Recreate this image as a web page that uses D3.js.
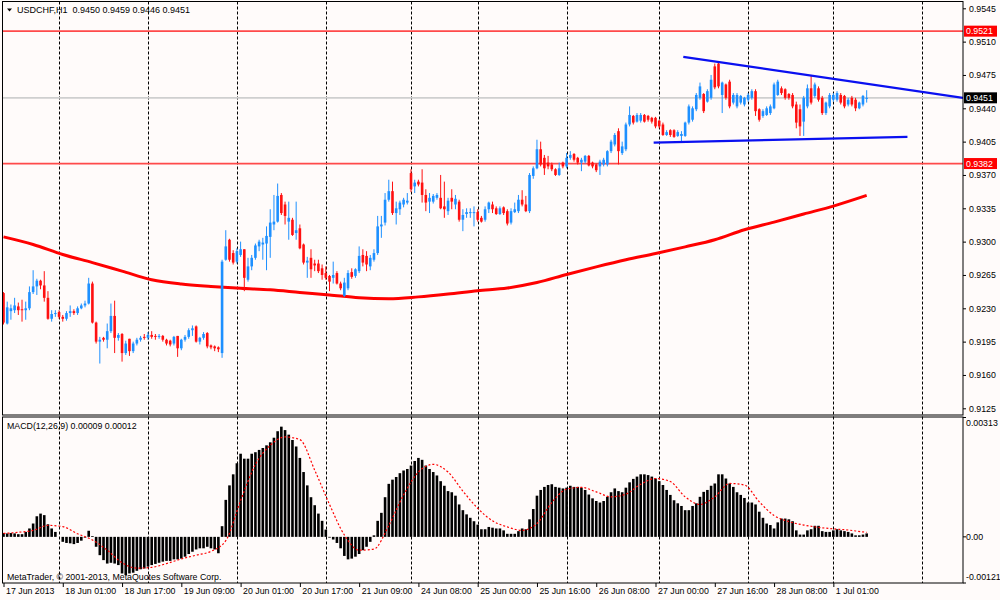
<!DOCTYPE html>
<html>
<head>
<meta charset="utf-8">
<script src="https://cdn.jsdelivr.net/npm/d3@7"></script>
<style>
  html, body { margin: 0; padding: 0; background: #fffbfa; }
  svg { display: block; font-family: "Liberation Sans", Arial, sans-serif; }
</style>
</head>
<body>
<svg id="chart" width="1000" height="600"></svg>
<script>
// USDCHF H1 candles, one entry per bar
const opens = [
0.9246,0.9214,0.9227,0.9228,0.9232,0.9229,0.9228,0.9230,0.9247,0.9253,
0.9259,0.9254,0.9241,0.9219,0.9224,0.9226,0.9221,0.9219,0.9225,0.9227,
0.9225,0.9230,0.9233,0.9235,0.9256,0.9215,0.9195,0.9199,0.9197,0.9206,
0.9222,0.9199,0.9203,0.9183,0.9198,0.9185,0.9193,0.9197,0.9200,0.9199,
0.9202,0.9201,0.9200,0.9201,0.9197,0.9196,0.9193,0.9201,0.9188,0.9197,
0.9200,0.9207,0.9211,0.9195,0.9199,0.9204,0.9191,0.9190,0.9189,0.9183,
0.9281,0.9302,0.9288,0.9279,0.9286,0.9292,0.9260,0.9274,0.9283,0.9295,
0.9297,0.9298,0.9305,0.9318,0.9321,0.9349,0.9339,0.9321,0.9323,0.9309,
0.9314,0.9297,0.9278,0.9283,0.9277,0.9277,0.9272,0.9267,0.9264,0.9262,
0.9267,0.9256,0.9243,0.9251,0.9268,0.9264,0.9269,0.9286,0.9285,0.9274,
0.9281,0.9288,0.9316,0.9320,0.9344,0.9353,0.9330,0.9334,0.9339,0.9341,
0.9372,0.9358,0.9363,0.9362,0.9349,0.9342,0.9342,0.9346,0.9346,0.9337,
0.9332,0.9346,0.9339,0.9342,0.9323,0.9329,0.9330,0.9330,0.9331,0.9325,
0.9323,0.9334,0.9339,0.9335,0.9329,0.9336,0.9332,0.9320,0.9331,0.9332,
0.9344,0.9339,0.9332,0.9369,0.9377,0.9397,0.9388,0.9383,0.9381,0.9376,
0.9370,0.9383,0.9379,0.9388,0.9392,0.9388,0.9383,0.9384,0.9390,0.9383,
0.9381,0.9379,0.9381,0.9381,0.9395,0.9402,0.9416,0.9393,0.9397,0.9423,
0.9432,0.9426,0.9427,0.9433,0.9432,0.9430,0.9430,0.9427,0.9423,0.9412,
0.9417,0.9417,0.9411,0.9411,0.9411,0.9425,0.9428,0.9439,0.9451,0.9455,
0.9447,0.9451,0.9484,0.9487,0.9454,0.9465,0.9468,0.9446,0.9442,0.9446,
0.9444,0.9449,0.9451,0.9458,0.9439,0.9432,0.9433,0.9435,0.9440,0.9454,
0.9461,0.9460,0.9455,0.9454,0.9444,0.9439,0.9426,0.9442,0.9461,0.9453,
0.9461,0.9451,0.9435,0.9442,0.9449,0.9449,0.9454,0.9453,0.9444,0.9451,
0.9449,0.9440,0.9444,0.9450];
const highs = [
0.9247,0.9237,0.9234,0.9241,0.9236,0.9239,0.9237,0.9253,0.9270,0.9261,
0.9260,0.9269,0.9248,0.9228,0.9228,0.9228,0.9223,0.9227,0.9233,0.9229,
0.9232,0.9235,0.9238,0.9262,0.9258,0.9216,0.9200,0.9200,0.9214,0.9235,
0.9238,0.9204,0.9204,0.9196,0.9198,0.9195,0.9199,0.9201,0.9203,0.9205,
0.9206,0.9203,0.9203,0.9202,0.9198,0.9197,0.9201,0.9201,0.9198,0.9202,
0.9209,0.9212,0.9212,0.9200,0.9205,0.9205,0.9192,0.9191,0.9190,0.9281,
0.9312,0.9303,0.9291,0.9293,0.9300,0.9292,0.9283,0.9286,0.9298,0.9302,
0.9304,0.9316,0.9334,0.9349,0.9361,0.9351,0.9342,0.9342,0.9325,0.9342,
0.9318,0.9298,0.9284,0.9292,0.9281,0.9281,0.9276,0.9274,0.9265,0.9279,
0.9269,0.9258,0.9262,0.9270,0.9272,0.9272,0.9295,0.9292,0.9290,0.9286,
0.9292,0.9327,0.9327,0.9351,0.9365,0.9363,0.9342,0.9343,0.9346,0.9351,
0.9376,0.9365,0.9365,0.9376,0.9355,0.9351,0.9350,0.9351,0.9370,0.9363,
0.9346,0.9355,0.9349,0.9344,0.9334,0.9335,0.9335,0.9337,0.9334,0.9327,
0.9337,0.9342,0.9342,0.9337,0.9337,0.9337,0.9334,0.9335,0.9341,0.9349,
0.9354,0.9348,0.9372,0.9379,0.9407,0.9405,0.9391,0.9390,0.9383,0.9377,
0.9383,0.9384,0.9393,0.9395,0.9393,0.9389,0.9388,0.9391,0.9391,0.9384,
0.9382,0.9386,0.9388,0.9396,0.9407,0.9414,0.9419,0.9405,0.9425,0.9442,
0.9433,0.9435,0.9435,0.9434,0.9433,0.9431,0.9431,0.9428,0.9425,0.9417,
0.9418,0.9418,0.9417,0.9416,0.9426,0.9444,0.9442,0.9456,0.9467,0.9456,
0.9460,0.9475,0.9487,0.9488,0.9468,0.9466,0.9470,0.9456,0.9456,0.9454,
0.9452,0.9456,0.9460,0.9460,0.9440,0.9439,0.9442,0.9444,0.9467,0.9470,
0.9463,0.9461,0.9456,0.9456,0.9447,0.9444,0.9453,0.9465,0.9475,0.9467,
0.9463,0.9453,0.9447,0.9456,0.9456,0.9458,0.9456,0.9454,0.9451,0.9453,
0.9451,0.9447,0.9454,0.9459];
const lows = [
0.9213,0.9213,0.9218,0.9225,0.9223,0.9216,0.9218,0.9228,0.9245,0.9244,
0.9250,0.9237,0.9218,0.9216,0.9221,0.9219,0.9216,0.9217,0.9221,0.9223,
0.9223,0.9229,0.9231,0.9234,0.9214,0.9193,0.9172,0.9195,0.9188,0.9204,
0.9183,0.9196,0.9174,0.9181,0.9180,0.9183,0.9191,0.9195,0.9197,0.9197,
0.9198,0.9197,0.9198,0.9195,0.9191,0.9190,0.9191,0.9179,0.9186,0.9195,
0.9198,0.9201,0.9194,0.9192,0.9197,0.9188,0.9187,0.9185,0.9184,0.9178,
0.9280,0.9279,0.9276,0.9277,0.9284,0.9248,0.9258,0.9270,0.9281,0.9290,
0.9281,0.9270,0.9283,0.9312,0.9320,0.9328,0.9318,0.9302,0.9306,0.9302,
0.9292,0.9276,0.9262,0.9262,0.9269,0.9267,0.9260,0.9260,0.9248,0.9256,
0.9255,0.9249,0.9242,0.9249,0.9261,0.9262,0.9267,0.9274,0.9269,0.9270,
0.9279,0.9286,0.9304,0.9317,0.9342,0.9328,0.9318,0.9328,0.9336,0.9339,
0.9352,0.9351,0.9358,0.9341,0.9332,0.9330,0.9340,0.9344,0.9334,0.9325,
0.9328,0.9334,0.9334,0.9321,0.9311,0.9325,0.9325,0.9316,0.9321,0.9320,
0.9321,0.9330,0.9330,0.9328,0.9328,0.9328,0.9317,0.9318,0.9330,0.9330,
0.9337,0.9331,0.9330,0.9366,0.9376,0.9379,0.9370,0.9376,0.9374,0.9369,
0.9369,0.9377,0.9377,0.9386,0.9384,0.9381,0.9374,0.9382,0.9379,0.9377,
0.9373,0.9370,0.9379,0.9379,0.9393,0.9400,0.9381,0.9391,0.9395,0.9421,
0.9423,0.9425,0.9425,0.9425,0.9426,0.9424,0.9419,0.9419,0.9411,0.9411,
0.9410,0.9409,0.9410,0.9405,0.9410,0.9423,0.9426,0.9437,0.9449,0.9435,
0.9446,0.9449,0.9460,0.9461,0.9435,0.9449,0.9440,0.9444,0.9440,0.9444,
0.9442,0.9447,0.9449,0.9432,0.9426,0.9430,0.9432,0.9433,0.9439,0.9453,
0.9454,0.9449,0.9449,0.9440,0.9419,0.9411,0.9411,0.9440,0.9444,0.9451,
0.9447,0.9433,0.9433,0.9440,0.9447,0.9447,0.9444,0.9440,0.9442,0.9442,
0.9437,0.9439,0.9442,0.9446];
const closes = [
0.9215,0.9231,0.9230,0.9233,0.9228,0.9228,0.9230,0.9247,0.9253,0.9259,
0.9254,0.9241,0.9219,0.9224,0.9225,0.9221,0.9219,0.9225,0.9227,0.9225,
0.9230,0.9233,0.9235,0.9256,0.9215,0.9195,0.9197,0.9197,0.9206,0.9222,
0.9199,0.9202,0.9183,0.9193,0.9185,0.9193,0.9197,0.9199,0.9199,0.9202,
0.9200,0.9200,0.9201,0.9197,0.9193,0.9192,0.9200,0.9188,0.9197,0.9200,
0.9207,0.9209,0.9195,0.9199,0.9203,0.9190,0.9189,0.9188,0.9187,0.9279,
0.9295,0.9281,0.9278,0.9290,0.9292,0.9262,0.9274,0.9283,0.9296,0.9300,
0.9299,0.9306,0.9320,0.9321,0.9348,0.9330,0.9327,0.9325,0.9307,0.9312,
0.9293,0.9278,0.9280,0.9271,0.9275,0.9269,0.9265,0.9262,0.9258,0.9265,
0.9256,0.9251,0.9257,0.9267,0.9263,0.9271,0.9285,0.9278,0.9276,0.9283,
0.9288,0.9316,0.9318,0.9344,0.9353,0.9330,0.9335,0.9341,0.9344,0.9343,
0.9355,0.9362,0.9360,0.9349,0.9341,0.9346,0.9348,0.9349,0.9335,0.9334,
0.9343,0.9342,0.9345,0.9323,0.9328,0.9331,0.9331,0.9331,0.9323,0.9321,
0.9334,0.9341,0.9334,0.9329,0.9335,0.9330,0.9319,0.9332,0.9334,0.9344,
0.9339,0.9332,0.9370,0.9377,0.9397,0.9381,0.9377,0.9379,0.9376,0.9370,
0.9377,0.9379,0.9388,0.9391,0.9386,0.9383,0.9386,0.9390,0.9380,0.9379,
0.9375,0.9384,0.9386,0.9395,0.9405,0.9412,0.9395,0.9400,0.9423,0.9433,
0.9425,0.9433,0.9433,0.9426,0.9428,0.9426,0.9421,0.9421,0.9412,0.9415,
0.9412,0.9410,0.9415,0.9413,0.9425,0.9442,0.9440,0.9454,0.9463,0.9437,
0.9458,0.9470,0.9462,0.9463,0.9467,0.9451,0.9442,0.9454,0.9454,0.9453,
0.9451,0.9454,0.9458,0.9437,0.9428,0.9437,0.9440,0.9442,0.9465,0.9468,
0.9456,0.9451,0.9451,0.9442,0.9425,0.9421,0.9451,0.9461,0.9446,0.9465,
0.9449,0.9435,0.9446,0.9454,0.9454,0.9456,0.9446,0.9442,0.9449,0.9444,
0.9440,0.9446,0.9453,0.9451];

// moving average, read at [bar, price]
const maPoints = [
[0,0.9305],[8,0.9297],[16,0.92865],[24,0.9278],[32,0.9269],[40,0.9260],
[48,0.92555],[56,0.9253],[64,0.9251],[72,0.92495],[80,0.92467],[88,0.9244],
[96,0.9241],[104,0.9240],[112,0.9242],[120,0.9245],[128,0.92485],[136,0.92513],
[144,0.9257],[152,0.92655],[160,0.92735],[168,0.9281],[176,0.92875],[184,0.92945],
[192,0.9302],[200,0.93125],[208,0.93205],[216,0.9329],[224,0.93373],[233,0.93485]];

// MACD(12,26,9) histogram and signal, in units of 0.00001
const MACD_UNIT = 1e-5;
const macdMain = [
10,9,10,9,7,7,13,22,35,54,
61,57,33,22,13,0,-13,-16,-17,-19,
-16,-10,-2,16,2,-26,-48,-61,-70,-68,
-70,-74,-96,-100,-96,-94,-89,-85,-83,-78,
-74,-71,-68,-65,-63,-63,-59,-59,-57,-52,
-45,-39,-33,-30,-30,-26,-30,-33,-43,28,
97,135,164,193,218,205,205,218,222,228,
233,240,248,260,277,289,280,268,254,237,
207,170,135,104,83,61,42,19,-2,-7,
-16,-30,-50,-59,-57,-52,-45,-35,-26,-13,
4,42,63,104,139,150,157,167,174,178,
187,199,207,202,187,178,170,161,146,134,
120,117,108,85,70,59,50,41,32,20,
20,26,24,22,22,17,8,8,8,15,
22,20,46,73,108,123,131,136,138,131,
129,127,129,134,131,131,129,123,111,101,
94,90,94,105,117,127,120,117,129,143,
152,158,164,164,162,158,153,146,136,123,
110,96,88,81,70,70,81,88,105,118,
123,134,140,164,164,153,140,131,117,110,
102,90,90,85,66,50,35,31,22,38,
48,48,46,41,17,6,6,17,20,29,
29,15,13,13,17,20,17,15,13,9,
4,4,6,9];
const signalPoints = [
[0,9],[4,12],[8,17],[12,30],[16,27],[20,8],[24,-8],[28,-35],[32,-68],[36,-82],
[40,-80],[44,-70],[48,-58],[52,-48],[56,-38],[60,-10],[64,95],[68,190],[72,240],
[76,262],[80,255],[84,175],[88,85],[92,5],[96,-35],[100,-32],[104,30],[108,110],
[112,170],[116,190],[120,170],[124,120],[128,75],[132,42],[136,26],[140,17],
[144,35],[148,90],[152,125],[156,130],[160,118],[164,105],[168,112],[172,138],
[176,153],[180,145],[184,105],[188,85],[192,105],[196,140],[200,136],[204,92],
[208,56],[212,40],[216,31],[220,25],[224,21],[228,18],[232,13],[233,12]];

// drawn objects
const redLevels = [0.9521, 0.9382];
const bidPrice = 0.9451;
const upperTrend = [[183.5, 0.9494], [259, 0.9451]];
const lowerTrend = [[175.5, 0.9404], [244, 0.9410]];

// axes
const priceTicks = [0.9545,0.9510,0.9475,0.9440,0.9405,0.9370,0.9335,0.9300,0.9265,0.9230,0.9195,0.9160,0.9125];
const macdTicks = [0.00313, 0, -0.00121];
const macdTickLabels = ['0.00313', '0.00', '-0.00121'];
const labelBars = [0,16,32,48,64,80,96,112,128,144,160,176,192,208,224];
const timeLabels = ['17 Jun 2013','18 Jun 01:00','18 Jun 17:00','19 Jun 09:00','20 Jun 01:00',
  '20 Jun 17:00','21 Jun 09:00','24 Jun 08:00','25 Jun 00:00','25 Jun 16:00','26 Jun 08:00',
  '27 Jun 00:00','27 Jun 16:00','28 Jun 08:00','1 Jul 01:00'];
const dayStartBars = [15,39,63,87,110,128,152,177,201,224,248];

const bull = '#1e90ff', bear = '#ff1010';

const svg = d3.select('#chart');
const left = 2.5, right = 963,
  mainTop = 1.5, mainBottom = 415,
  macdTop = 417, macdBottom = 583;

const x = d3.scaleLinear().domain([0, 259]).range([3.5, 963]);
const y = d3.scaleLinear().domain([0.9125, 0.9545]).range([408.3, 8.3]);
const yM = d3.scaleLinear().domain([-0.00121, 0.00313]).range([583, 417.5]);

svg.append('rect').attr('width', 1000).attr('height', 600).attr('fill', '#fffbfa');

const defs = svg.append('defs');
defs.append('clipPath').attr('id', 'clipMain')
  .append('rect').attr('x', left).attr('y', mainTop).attr('width', right - left).attr('height', mainBottom - mainTop);
defs.append('clipPath').attr('id', 'clipMacd')
  .append('rect').attr('x', left).attr('y', macdTop).attr('width', right - left).attr('height', macdBottom - macdTop);

// day grid, through both panels
svg.append('g').selectAll('line').data(dayStartBars).enter().append('line')
  .attr('x1', d => Math.round(x(d)) + 0.5).attr('x2', d => Math.round(x(d)) + 0.5)
  .attr('y1', mainTop).attr('y2', macdBottom)
  .attr('stroke', '#000').attr('stroke-width', 1).attr('stroke-dasharray', '3,2');

const main = svg.append('g').attr('clip-path', 'url(#clipMain)');

// bid line and horizontal levels
main.append('line')
  .attr('x1', left).attr('x2', right).attr('y1', y(bidPrice)).attr('y2', y(bidPrice))
  .attr('stroke', '#cfcfcf').attr('stroke-width', 1.8);
main.selectAll('line.level').data(redLevels).enter().append('line')
  .attr('class', 'level')
  .attr('x1', left).attr('x2', right).attr('y1', d => y(d)).attr('y2', d => y(d))
  .attr('stroke', '#ff4a4a').attr('stroke-width', 1.7);

// moving average
main.append('path').datum(maPoints)
  .attr('d', d3.line().x(d => x(d[0])).y(d => y(d[1])).curve(d3.curveMonotoneX))
  .attr('fill', 'none').attr('stroke', '#ff0000').attr('stroke-width', 3);

// candles
const bars = closes.map((c, i) => ({ i, o: opens[i], h: highs[i], l: lows[i], c }));
const candle = main.selectAll('g.candle').data(bars).enter().append('g').attr('class', 'candle');
candle.append('line')
  .attr('x1', d => x(d.i)).attr('x2', d => x(d.i))
  .attr('y1', d => y(d.h)).attr('y2', d => y(d.l))
  .attr('stroke', d => d.c >= d.o ? bull : bear).attr('stroke-width', 1);
candle.append('rect')
  .attr('x', d => x(d.i) - 1.3).attr('width', 2.6)
  .attr('y', d => y(Math.max(d.o, d.c)))
  .attr('height', d => Math.max(1, Math.abs(y(d.o) - y(d.c))))
  .attr('fill', d => d.c >= d.o ? bull : bear);

// trend lines
const tline = d3.line().x(d => x(d[0])).y(d => y(d[1]));
[upperTrend, lowerTrend].forEach(t => {
  main.append('path').datum(t).attr('d', tline)
    .attr('fill', 'none').attr('stroke', '#0a10f0').attr('stroke-width', 2.2);
});

// MACD panel
const macd = svg.append('g').attr('clip-path', 'url(#clipMacd)');
macd.selectAll('rect').data(macdMain).enter().append('rect')
  .attr('x', (d, i) => x(i) - 1.3).attr('width', 2.6)
  .attr('y', d => yM(Math.max(0, d * MACD_UNIT)))
  .attr('height', d => Math.abs(yM(d * MACD_UNIT) - yM(0)))
  .attr('fill', '#000');
macd.append('path').datum(signalPoints)
  .attr('d', d3.line().x(d => x(d[0])).y(d => yM(d[1] * MACD_UNIT)).curve(d3.curveMonotoneX))
  .attr('fill', 'none').attr('stroke', '#ff0000').attr('stroke-width', 1.2).attr('stroke-dasharray', '2,2');

// panel frames
[[mainTop, mainBottom], [macdTop, macdBottom]].forEach(p => {
  svg.append('rect').attr('x', left).attr('y', p[0]).attr('width', right - left).attr('height', p[1] - p[0])
    .attr('fill', 'none').attr('stroke', '#000').attr('stroke-width', 1);
});

// price axis
const yAxis = d3.axisRight(y).tickValues(priceTicks).tickFormat(d3.format('.4f')).tickSize(3).tickPadding(3);
const yAxisGroup = svg.append('g').attr('transform', `translate(${right},0)`).call(yAxis);
yAxisGroup.select('.domain').remove();
yAxisGroup.selectAll('text').attr('font-size', 8.8).attr('fill', '#000').attr('font-family', 'Liberation Sans, Arial, sans-serif');

// price tags
const tags = redLevels.map(v => ({ v, fill: '#ff0000' })).concat([{ v: bidPrice, fill: '#000' }]);
const tag = svg.append('g').selectAll('g').data(tags).enter().append('g');
tag.append('rect').attr('x', right + 1).attr('y', d => y(d.v) - 5.5).attr('width', 33).attr('height', 11)
  .attr('fill', d => d.fill);
tag.append('text').attr('x', right + 3).attr('y', d => y(d.v)).attr('dy', '0.35em')
  .attr('font-size', 8.8).attr('fill', '#fff').text(d => d3.format('.4f')(d.v));

// MACD axis
const mTick = svg.append('g').selectAll('g').data(macdTicks).enter().append('g');
mTick.append('line').attr('x1', right).attr('x2', right + 3)
  .attr('y1', d => yM(d)).attr('y2', d => yM(d)).attr('stroke', '#000');
mTick.append('text').attr('x', right + 3).attr('y', d => yM(d))
  .attr('dy', (d, i) => i === 0 ? '0.95em' : (i === 2 ? '-0.35em' : '0.35em'))
  .attr('font-size', 8.8).attr('fill', '#000').text((d, i) => macdTickLabels[i]);

// time axis
const xAxis = d3.axisBottom(x).tickValues(labelBars).tickFormat((d, i) => timeLabels[i]).tickSize(4).tickPadding(3);
const xAxisGroup = svg.append('g').attr('transform', `translate(0,${macdBottom})`).call(xAxis);
xAxisGroup.select('.domain').remove();
xAxisGroup.selectAll('text').attr('text-anchor', 'start').attr('dx', 2).attr('y', 4).attr('dy', '0.85em')
  .attr('font-size', 8.8).attr('fill', '#000').attr('font-family', 'Liberation Sans, Arial, sans-serif');

// titles
svg.append('path').attr('d', 'M7,8.5 L12,8.5 L9.5,11.5 Z').attr('fill', '#000');
svg.append('text').attr('x', 17).attr('y', 10).attr('dy', '0.35em').attr('font-size', 9)
  .attr('xml:space', 'preserve').style('white-space', 'pre')
  .text('USDCHF,H1  0.9450 0.9459 0.9446 0.9451');
svg.append('text').attr('x', 7).attr('y', 425.5).attr('dy', '0.35em').attr('font-size', 8.8)
  .text('MACD(12,26,9) 0.00009 0.00012');
svg.append('text').attr('x', 7).attr('y', 576.5).attr('dy', '0.35em').attr('font-size', 8.8)
  .text('MetaTrader, \u00a9 2001-2013, MetaQuotes Software Corp.');
</script>
</body>
</html>
